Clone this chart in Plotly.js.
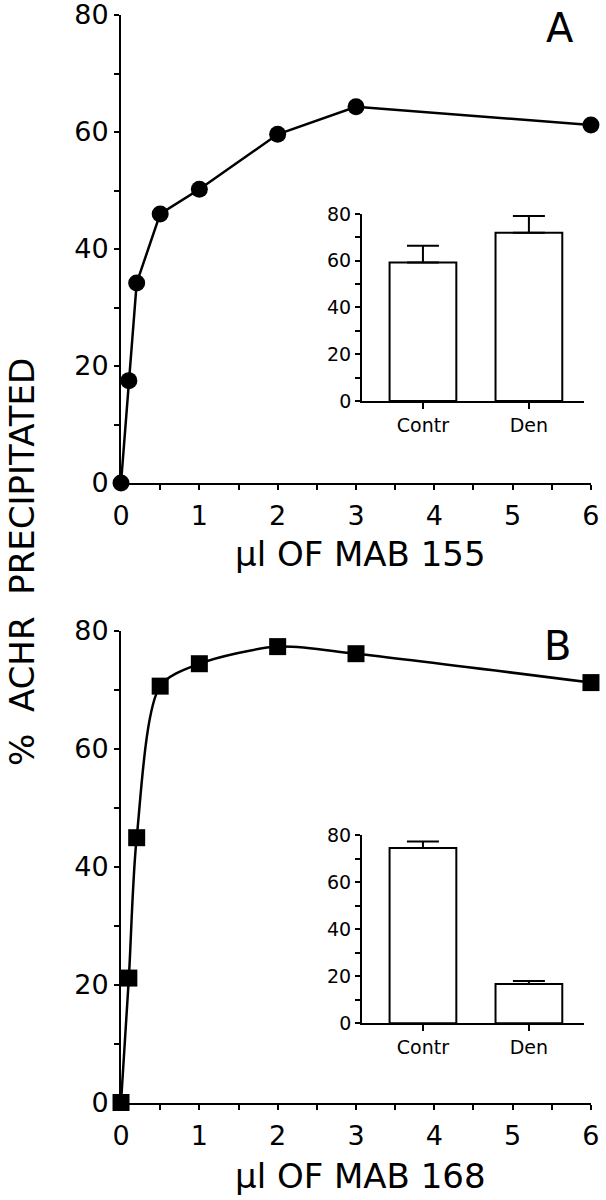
<!DOCTYPE html>
<html>
<head>
<meta charset="utf-8">
<script src="https://cdn.plot.ly/plotly-3.0.1.min.js"></script>
<style>html,body{margin:0;padding:0;background:#fff;}#chart{width:606px;height:1200px;}</style>
</head>
<body>
<div id="chart"></div>
<script>
// ---- data ----
var doseA = [0, 0.1, 0.2, 0.5, 1, 2, 3, 6];
var pctA  = [0, 17.5, 34.2, 46.0, 50.2, 59.6, 64.3, 61.2];
var doseB = [0, 0.1, 0.2, 0.5, 1, 2, 3, 6];
var pctB  = [0, 21.1, 44.9, 70.6, 74.4, 77.3, 76.1, 71.2];
var insetCats = ['Contr', 'Den'];
var insetA    = [59.2, 72.0];
var insetAErr = [7.2, 7.1];
var insetB    = [74.6, 16.7];
var insetBErr = [2.8, 1.3];
var xTickVals = [0, 0.5, 1, 1.5, 2, 2.5, 3, 3.5, 4, 4.5, 5, 5.5, 6];
var xTickText = ['0', '', '1', '', '2', '', '3', '', '4', '', '5', '', '6'];
var yTickVals = [0, 10, 20, 30, 40, 50, 60, 70, 80];
var yTickText = ['0', '', '20', '', '40', '', '60', '', '80'];
var xTitleA = 'µl OF MAB 155';
var xTitleB = 'µl OF MAB 168';
var yTitle = '%  ACHR  PRECIPITATED';

var FONT = 'DejaVu Sans, Verdana, sans-serif';

var traces = [
  {x: doseA, y: pctA, xaxis: 'x', yaxis: 'y', type: 'scatter', mode: 'lines+markers',
   line: {color: '#000', width: 2.5}, marker: {symbol: 'circle', size: 17, color: '#000'},
   cliponaxis: false, hoverinfo: 'skip'},
  {x: insetCats, y: insetA, xaxis: 'x2', yaxis: 'y2', type: 'bar', width: 0.63,
   marker: {color: '#fff', line: {color: '#000', width: 2}},
   error_y: {type: 'data', symmetric: false, array: insetAErr, arrayminus: [0, 0], color: '#000', thickness: 2, width: 16},
   hoverinfo: 'skip'},
  {x: doseB, y: pctB, xaxis: 'x3', yaxis: 'y3', type: 'scatter', mode: 'lines+markers',
   line: {color: '#000', width: 2.5, shape: 'spline', smoothing: 0.8}, marker: {symbol: 'square', size: 17, color: '#000'},
   cliponaxis: false, hoverinfo: 'skip'},
  {x: insetCats, y: insetB, xaxis: 'x4', yaxis: 'y4', type: 'bar', width: 0.63,
   marker: {color: '#fff', line: {color: '#000', width: 2}},
   error_y: {type: 'data', symmetric: false, array: insetBErr, arrayminus: [0, 0], color: '#000', thickness: 2, width: 16},
   hoverinfo: 'skip'}
];

function mainX(anchor, dom) {
  return {domain: dom, anchor: anchor, range: [0, 6], showline: true, linewidth: 2, linecolor: '#000',
    ticks: 'outside', ticklen: 5, tickwidth: 2, tickcolor: '#000', tickvals: xTickVals, ticktext: xTickText,
    ticklabeloverflow: 'allow', ticklabelstandoff: 3,
    tickfont: {family: FONT, size: 27, color: '#000'}, showgrid: false, zeroline: false, fixedrange: true};
}
function mainY(anchor, dom) {
  return {domain: dom, anchor: anchor, range: [0, 80], showline: true, linewidth: 2, linecolor: '#000',
    ticks: 'outside', ticklen: 5, tickwidth: 2, tickcolor: '#000', tickvals: yTickVals, ticktext: yTickText,
    ticklabeloverflow: 'allow',
    tickfont: {family: FONT, size: 27, color: '#000'}, showgrid: false, zeroline: false, fixedrange: true};
}
function insetX(anchor, dom) {
  return {domain: dom, anchor: anchor, type: 'category', range: [-0.575, 1.52], showline: true, linewidth: 2, linecolor: '#000',
    ticks: 'outside', ticklen: 6, tickwidth: 2, tickcolor: '#000', ticklabeloverflow: 'allow',
    tickfont: {family: FONT, size: 19, color: '#000'}, showgrid: false, zeroline: false, fixedrange: true};
}
function insetY(anchor, dom) {
  return {domain: dom, anchor: anchor, range: [0, 80], showline: true, linewidth: 2, linecolor: '#000',
    ticks: 'outside', ticklen: 5, tickwidth: 2, tickcolor: '#000', tickvals: yTickVals, ticktext: yTickText,
    ticklabeloverflow: 'allow',
    tickfont: {family: FONT, size: 19, color: '#000'}, showgrid: false, zeroline: false, fixedrange: true};
}

var layout = {
  width: 606, height: 1200,
  margin: {l: 0, r: 0, t: 0, b: 0},
  paper_bgcolor: '#fff', plot_bgcolor: 'rgba(0,0,0,0)',
  showlegend: false,
  font: {family: FONT, color: '#000'},
  xaxis: mainX('y', [0.1997, 0.9752]),
  yaxis: mainY('x', [0.5975, 1 - 15/1200]),
  xaxis2: insetX('y2', [0.5974, 0.9637]),
  yaxis2: insetY('x2', [0.66583, 0.82167]),
  xaxis3: mainX('y3', [0.1997, 0.9752]),
  yaxis3: mainY('x3', [0.08125, 0.47442]),
  xaxis4: insetX('y4', [0.5974, 0.9637]),
  yaxis4: insetY('x4', [0.14725, 0.30392]),
  annotations: [
    {text: xTitleA, xref: 'paper', yref: 'paper', x: 360/606, y: 1 - 554/1200, xanchor: 'center', yanchor: 'middle',
     showarrow: false, font: {family: FONT, size: 34, color: '#000'}},
    {text: xTitleB, xref: 'paper', yref: 'paper', x: 360/606, y: 1 - 1176/1200, xanchor: 'center', yanchor: 'middle',
     showarrow: false, font: {family: FONT, size: 34, color: '#000'}},
    {text: yTitle, xref: 'paper', yref: 'paper', x: 22/606, y: 1 - 562/1200, xanchor: 'center', yanchor: 'middle',
     textangle: -90, showarrow: false, font: {family: FONT, size: 34, color: '#000'}},
    {text: 'A', xref: 'paper', yref: 'paper', x: 560/606, y: 1 - 28/1200, xanchor: 'center', yanchor: 'middle',
     showarrow: false, font: {family: FONT, size: 40, color: '#000'}},
    {text: 'B', xref: 'paper', yref: 'paper', x: 557/606, y: 1 - 646/1200, xanchor: 'center', yanchor: 'middle',
     showarrow: false, font: {family: FONT, size: 40, color: '#000'}}
  ]
};

Plotly.newPlot('chart', traces, layout, {displayModeBar: false, staticPlot: true});
</script>
</body>
</html>
